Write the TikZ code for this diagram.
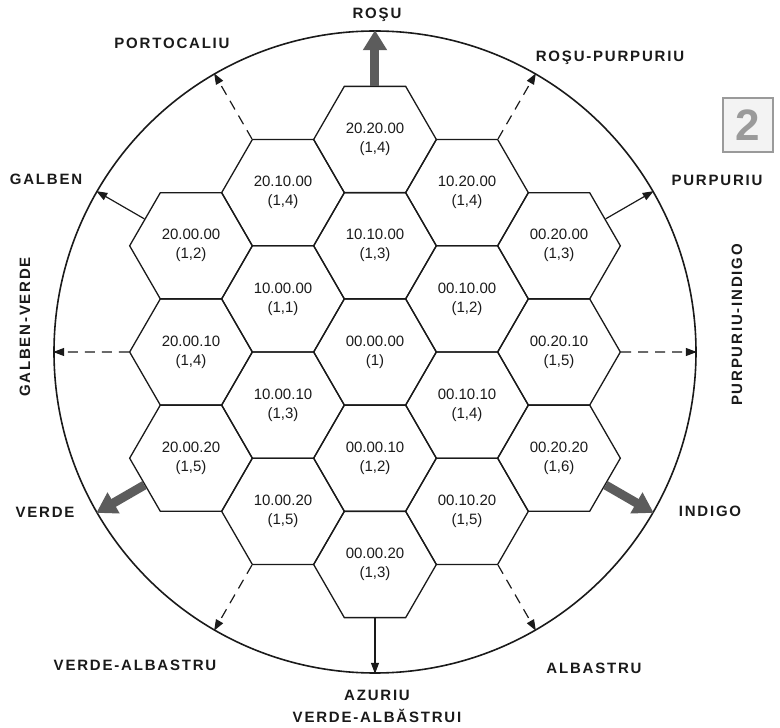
\documentclass[tikz,border=0pt]{standalone}
\usepackage{fontspec}
\setmainfont{Liberation Sans}
\newfontfamily\huefont{Liberation Sans}[LetterSpace=12]
\usepackage{tikz}
\usetikzlibrary{arrows.meta,shapes.geometric}
\definecolor{ink}{HTML}{1A1A1A}
\definecolor{shade}{HTML}{5C5C5C}
\definecolor{stamp}{HTML}{9A9A9A}
\tikzset{
  cell/.style={draw=ink, regular polygon, regular polygon sides=6,
               minimum size=122.7pt, inner sep=0pt, line width=1.3pt,
               align=center, text=ink, font=\fontsize{15}{19}\selectfont},
  hue/.style={font=\huefont\bfseries\fontsize{15}{22}\selectfont,
              text=ink, align=center, inner sep=1pt},
  primary/.style={-{Triangle[length=20pt,width=23pt]}, line width=9pt, draw=shade},
  secondary/.style={-{Triangle[length=11pt,width=8pt]}, line width=1.2pt, draw=ink},
  tertiary/.style={secondary, dash pattern=on 10pt off 7pt}
}

\begin{document}
\begin{tikzpicture}[x=1pt,y=1pt]
  \useasboundingbox (-375,-376) rectangle (405,352);

  % colour wheel
  \node[draw=ink, circle, minimum size=642pt, line width=1.6pt] (wheel) at (0,0) {};

  % hexagon cells
  \node[cell] (c202000) at (0,212.5)    {20.20.00\\(1,4)};
  \node[cell] (c101000) at (0,106.2)    {10.10.00\\(1,3)};
  \node[cell] (c000000) at (0,0)        {00.00.00\\(1)};
  \node[cell] (c000010) at (0,-106.2)   {00.00.10\\(1,2)};
  \node[cell] (c000020) at (0,-212.5)   {00.00.20\\(1,3)};
  \node[cell] (c201000) at (-92,159.3)  {20.10.00\\(1,4)};
  \node[cell] (c100000) at (-92,53.1)   {10.00.00\\(1,1)};
  \node[cell] (c100010) at (-92,-53.1)  {10.00.10\\(1,3)};
  \node[cell] (c100020) at (-92,-159.3) {10.00.20\\(1,5)};
  \node[cell] (c102000) at (92,159.3)   {10.20.00\\(1,4)};
  \node[cell] (c001000) at (92,53.1)    {00.10.00\\(1,2)};
  \node[cell] (c001010) at (92,-53.1)   {00.10.10\\(1,4)};
  \node[cell] (c001020) at (92,-159.3)  {00.10.20\\(1,5)};
  \node[cell] (c200000) at (-184,106.2) {20.00.00\\(1,2)};
  \node[cell] (c200010) at (-184,0)     {20.00.10\\(1,4)};
  \node[cell] (c200020) at (-184,-106.2){20.00.20\\(1,5)};
  \node[cell] (c002000) at (184,106.2)  {00.20.00\\(1,3)};
  \node[cell] (c002010) at (184,0)      {00.20.10\\(1,5)};
  \node[cell] (c002020) at (184,-106.2) {00.20.20\\(1,6)};

  % arrows to the rim
  \draw[primary]   (c202000.90)  -- (wheel.90);
  \draw[tertiary]  (c102000.60)  -- (wheel.60);
  \draw[secondary] (c002000.30)  -- (wheel.30);
  \draw[tertiary]  (c002010.0)   -- (wheel.0);
  \draw[primary]   (c002020.-30) -- (wheel.-30);
  \draw[tertiary]  (c001020.-60) -- (wheel.-60);
  \draw[secondary] (c000020.-90) -- (wheel.-90);
  \draw[tertiary]  (c100020.-120)-- (wheel.-120);
  \draw[primary]   (c200020.-150)-- (wheel.-150);
  \draw[tertiary]  (c200010.180) -- (wheel.180);
  \draw[secondary] (c200000.150) -- (wheel.150);
  \draw[tertiary]  (c201000.120) -- (wheel.120);

  % colour names
  \node[hue] (rosu)    at (2,337)     {ROŞU};
  \node[hue] (rosupur) at (235,294)   {ROŞU-PURPURIU};
  \node[hue] (purpur)  at (342,172)   {PURPURIU};
  \node[hue, rotate=90] (purind) at (362,27) {PURPURIU-INDIGO};
  \node[hue] (indigo)  at (335,-159)  {INDIGO};
  \node[hue] (albastru) at (219,-316) {ALBASTRU};
  \node[hue] (azuriu)  at (2,-354)    {AZURIU\\VERDE-ALBĂSTRUI};
  \node[hue] (veralb)  at (-240,-313) {VERDE-ALBASTRU};
  \node[hue] (verde)   at (-330,-160) {VERDE};
  \node[hue, rotate=90] (galver) at (-350,25) {GALBEN-VERDE};
  \node[hue] (galben)  at (-329,173)  {GALBEN};
  \node[hue] (portoc)  at (-203,309)  {PORTOCALIU};

  % figure number
  \node[draw=stamp, line width=2pt, fill=stamp!12, minimum width=50pt,
        minimum height=54pt, inner sep=0pt, text=stamp,
        font=\bfseries\fontsize{44}{44}\selectfont] (fignum) at (373,227) {2};
\end{tikzpicture}
\end{document}
